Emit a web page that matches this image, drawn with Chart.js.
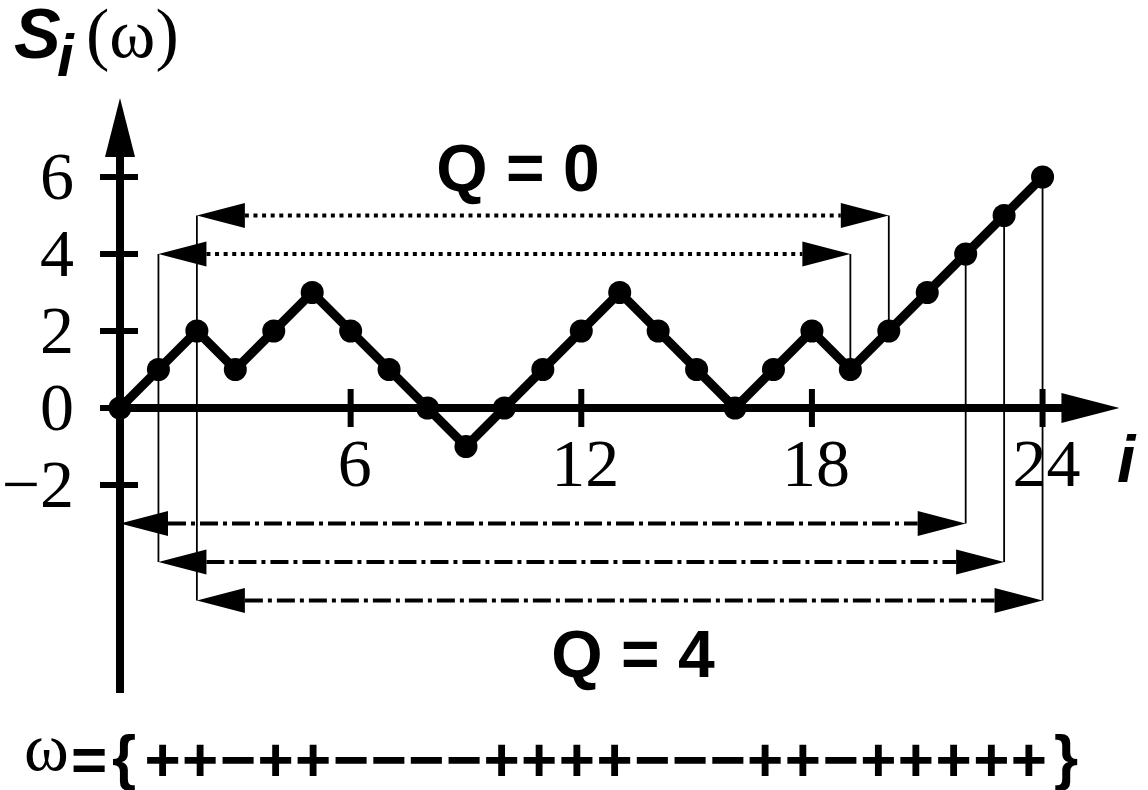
<!DOCTYPE html>
<html>
<head>
<meta charset="utf-8">
<title>S_i(ω) random walk</title>
<script src="https://cdn.jsdelivr.net/npm/chart.js@4.4.1/dist/chart.umd.min.js"></script>
<style>
  html, body { margin: 0; padding: 0; background: #fff; }
  #wrap { width: 1148px; height: 790px; }
</style>
</head>
<body>
<div id="wrap"><canvas id="walk" width="1148" height="790"></canvas></div>
<script>
// walk data
const steps = ["+", "+", "−", "+", "+", "−", "−", "−", "−", "+", "+", "+", "+", "−", "−", "−", "+", "+", "−", "+", "+", "+", "+", "+"];
const iValues = [0, 1, 2, 3, 4, 5, 6, 7, 8, 9, 10, 11, 12, 13, 14, 15, 16, 17, 18, 19, 20, 21, 22, 23, 24];
const sValues = [0, 1, 2, 1, 2, 3, 2, 1, 0, -1, 0, 1, 2, 3, 2, 1, 0, 1, 2, 1, 2, 3, 4, 5, 6];
const xTicks = [6, 12, 18, 24];
const yTicks = [6, 4, 2, 0, -2];

// Q = 0 brackets (dotted): start i, end i, level
const q0From = [2, 1];
const q0To = [20, 19];
const q0Level = [5, 4];
// Q = 4 brackets (dash-dot)
const q4From = [0, 1, 2];
const q4To = [22, 23, 24];
const q4Level = [-3, -4, -5];

// scale windows so that i=0 sits at x=120 and S=0 at y=408
const PX_X = 38.44, PX_Y = 38.5;
const X_MIN = -120 / PX_X, X_MAX = (1148 - 120) / PX_X;
const Y_MAX = 408 / PX_Y, Y_MIN = -(790 - 408) / PX_Y;

const points = iValues.map((i, k) => ({ x: i, y: sValues[k] }));

function head(ctx, tx, ty, dx, dy, len, half) {
  // dx,dy unit direction of the arrow
  const bx = tx - dx * len, by = ty - dy * len;
  ctx.beginPath();
  ctx.moveTo(tx, ty);
  ctx.lineTo(bx - dy * half, by + dx * half);
  ctx.lineTo(bx + dy * half, by - dx * half);
  ctx.closePath();
  ctx.fill();
}

function spanArrow(ctx, x1, x2, y, dash) {
  const len = 48, half = 12.5;
  ctx.save();
  ctx.lineWidth = 4;
  ctx.lineCap = "butt";
  ctx.setLineDash(dash);
  ctx.beginPath();
  ctx.moveTo(x1 + len, y);
  ctx.lineTo(x2 - len, y);
  ctx.stroke();
  ctx.restore();
  head(ctx, x1, y, -1, 0, len, half);
  head(ctx, x2, y, 1, 0, len, half);
}

const axesPlugin = {
  id: "axesPlugin",
  beforeDatasetsDraw(chart) {
    const ctx = chart.ctx;
    const xs = chart.scales.x, ys = chart.scales.y;
    const X = v => xs.getPixelForValue(v);
    const Y = v => ys.getPixelForValue(v);
    ctx.save();
    ctx.fillStyle = "#000";
    ctx.strokeStyle = "#000";

    // thin connectors from the walk to each bracket
    ctx.lineWidth = 1.8;
    const conn = (i, lvl) => {
      ctx.beginPath();
      ctx.moveTo(X(i), Y(sValues[i]));
      ctx.lineTo(X(i), Y(lvl));
      ctx.stroke();
    };
    q0From.forEach((f, k) => { conn(f, q0Level[k]); conn(q0To[k], q0Level[k]); });
    q4From.forEach((f, k) => { conn(f, q4Level[k]); conn(q4To[k], q4Level[k]); });

    // axes
    ctx.lineWidth = 8;
    ctx.beginPath();
    ctx.moveTo(X(0), Y(-7.4));
    ctx.lineTo(X(0), Y(8.05) + 50);
    ctx.moveTo(X(0) - 4, Y(0));
    ctx.lineTo(X(26) - 50, Y(0));
    ctx.stroke();
    head(ctx, X(0), Y(8.05), 0, -1, 59, 15);
    head(ctx, X(26), Y(0), 1, 0, 58, 15);

    // ticks
    ctx.lineWidth = 6;
    ctx.beginPath();
    xTicks.forEach(t => { ctx.moveTo(X(t), Y(0) - 19); ctx.lineTo(X(t), Y(0) + 19); });
    yTicks.forEach(t => { ctx.moveTo(X(0) - 20, Y(t)); ctx.lineTo(X(0) + 18, Y(t)); });
    ctx.stroke();

    // brackets
    q0From.forEach((f, k) => spanArrow(ctx, X(f), X(q0To[k]), Y(q0Level[k]), [4, 4.6]));
    q4From.forEach((f, k) => spanArrow(ctx, X(f), X(q4To[k]), Y(q4Level[k]), [18, 5, 4, 5]));
    ctx.restore();
  },
  afterDraw(chart) {
    const ctx = chart.ctx;
    const xs = chart.scales.x, ys = chart.scales.y;
    ctx.save();
    ctx.fillStyle = "#000";

    // tick labels
    ctx.font = "68px 'Liberation Serif', 'Times New Roman', serif";
    ctx.textBaseline = "alphabetic";
    ctx.textAlign = "center";
    xTicks.forEach(t => ctx.fillText(String(t), xs.getPixelForValue(t) + 4, 486));
    ctx.textAlign = "right";
    yTicks.forEach(t => ctx.fillText(t < 0 ? "−" + Math.abs(t) : String(t), 74, ys.getPixelForValue(t) + 22));

    // axis titles
    ctx.textAlign = "left";
    ctx.font = "bold italic 70px 'Liberation Sans', Arial, sans-serif";
    ctx.fillText("S", 14, 58);
    ctx.font = "bold italic 60px 'Liberation Sans', Arial, sans-serif";
    ctx.fillText("i", 57, 76);
    ctx.font = "70px 'Liberation Serif', 'Times New Roman', serif";
    ctx.fillText("(ω)", 86, 57);
    ctx.font = "bold italic 66px 'Liberation Sans', Arial, sans-serif";
    ctx.fillText("i", 1117, 482);

    // Q labels
    ctx.textAlign = "center";
    ctx.font = "bold 66px 'Liberation Sans', Arial, sans-serif";
    ctx.fillText("Q = 0", 518, 191);
    ctx.fillText("Q = 4", 633, 677);

    // omega sequence
    ctx.textAlign = "left";
    ctx.font = "68px 'Liberation Serif', 'Times New Roman', serif";
    ctx.fillText("ω", 24, 770);
    ctx.font = "bold 62px 'Liberation Sans', Arial, sans-serif";
    ctx.textAlign = "center";
    ctx.fillText("=", 89, 781);
    ctx.fillText("{", 124, 778);
    steps.forEach((s, k) => ctx.fillText(s, 162.5 + k * 37.67, 781));
    ctx.fillText("}", 1066, 778);
    ctx.restore();
  }
};

new Chart(document.getElementById("walk"), {
  type: "line",
  data: {
    datasets: [{
      data: points,
      borderColor: "#000",
      borderWidth: 9,
      borderJoinStyle: "round",
      pointRadius: 11.5,
      pointBackgroundColor: "#000",
      pointBorderWidth: 0,
      pointHoverRadius: 11.5,
      tension: 0,
      fill: false,
      clip: false
    }]
  },
  options: {
    responsive: false,
    animation: false,
    layout: { padding: 0, autoPadding: false },
    plugins: { legend: { display: false }, tooltip: { enabled: false } },
    scales: {
      x: { type: "linear", display: false, min: X_MIN, max: X_MAX },
      y: { type: "linear", display: false, min: Y_MIN, max: Y_MAX }
    }
  },
  plugins: [axesPlugin]
});
</script>
</body>
</html>
